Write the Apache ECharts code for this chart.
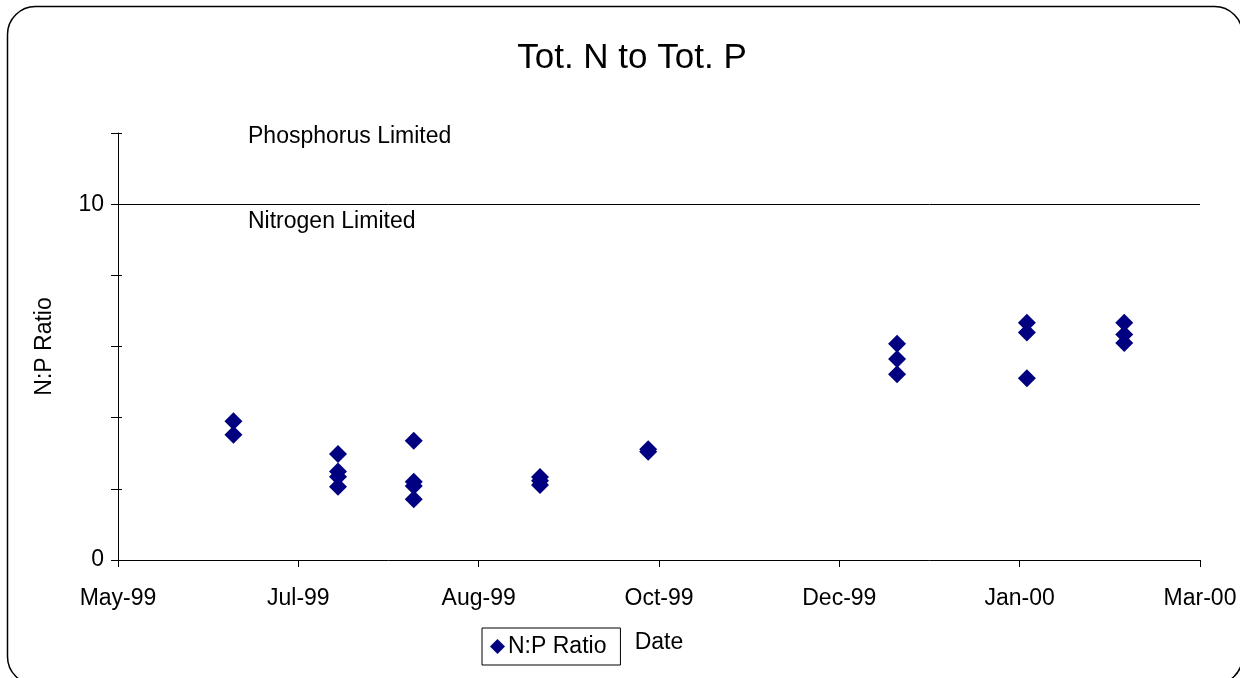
<!DOCTYPE html>
<html>
<head>
<meta charset="utf-8">
<title>Tot. N to Tot. P</title>
<script src="https://cdn.jsdelivr.net/npm/echarts@6/dist/echarts.min.js"></script>
<style>
  html, body { margin: 0; padding: 0; background: #fff; }
  #main { width: 1240px; height: 678px; }
</style>
</head>
<body>
<div id="main"></div>
<script>
// sample dates and N:P ratios
var sampleDates = [
  '1999-06-19', '1999-06-19',
  '1999-07-18', '1999-07-18', '1999-07-18', '1999-07-18',
  '1999-08-08', '1999-08-08', '1999-08-08', '1999-08-08',
  '1999-09-12', '1999-09-12', '1999-09-12',
  '1999-10-12', '1999-10-12',
  '1999-12-20', '1999-12-20', '1999-12-20',
  '2000-01-25', '2000-01-25', '2000-01-25',
  '2000-02-21', '2000-02-21', '2000-02-21'
];
var npRatio = [
  3.90, 3.52,
  2.98, 2.49, 2.34, 2.06,
  3.35, 2.20, 2.08, 1.71,
  2.33, 2.23, 2.11,
  3.11, 3.04,
  6.08, 5.65, 5.22,
  6.67, 6.39, 5.11,
  6.67, 6.34, 6.10
];
var limitLine = 10;
var yLabels = [0, 10];
var axisStart = '1999-05-18';   // x axis origin, ticks every 50 days
var months = ['Jan', 'Feb', 'Mar', 'Apr', 'May', 'Jun', 'Jul', 'Aug', 'Sep', 'Oct', 'Nov', 'Dec'];

window.onload = function () {
  var chart = echarts.init(document.getElementById('main'));
  var font = "'Liberation Sans', Arial, sans-serif";
  var DAY = 86400000;
  var t0 = Date.parse(axisStart + 'T00:00:00Z');

  var points = sampleDates.map(function (d, i) {
    return [(Date.parse(d + 'T00:00:00Z') - t0) / DAY, npRatio[i]];
  });

  function dateLabel(v) {
    var d = new Date(t0 + v * DAY);
    var yy = String(d.getUTCFullYear()).slice(2);
    return months[d.getUTCMonth()] + '-' + yy;
  }

  var yBase = {
    type: 'value', min: 0, max: 12, interval: 2,
    position: 'left',
    splitLine: { show: false }
  };

  var option = {
    animation: false,
    backgroundColor: '#fff',
    textStyle: { fontFamily: font },
    title: {
      text: 'Tot. N to Tot. P',
      left: 627, top: 36, textAlign: 'center',
      textStyle: { fontSize: 35, fontWeight: 'normal', color: '#000', fontFamily: font }
    },
    legend: {
      left: 482, top: 628,
      icon: 'diamond', itemWidth: 15, itemHeight: 15, itemGap: 4,
      padding: [7, 14, 7, 8],
      borderColor: '#000', borderWidth: 1,
      textStyle: { fontSize: 23, color: '#000', fontFamily: font, padding: [0, 0, 0, -2] },
      data: ['N:P Ratio']
    },
    grid: { left: 118, right: 40, top: 133, bottom: 118 },
    xAxis: {
      type: 'value', min: 0, max: 300, interval: 50,
      name: 'Date', nameLocation: 'middle', nameGap: 71,
      nameTextStyle: { fontSize: 23, color: '#000', fontFamily: font },
      axisLine: { lineStyle: { color: '#000', width: 1 } },
      axisTick: { length: 7, lineStyle: { color: '#000' } },
      axisLabel: { fontSize: 23, color: '#000', margin: 27, formatter: dateLabel },
      splitLine: { show: false }
    },
    yAxis: [
      Object.assign({}, yBase, {
        name: 'N:P Ratio', nameLocation: 'middle', nameGap: 62, nameRotate: 90,
        nameTextStyle: { fontSize: 23, color: '#000', fontFamily: font },
        axisLine: { show: true, lineStyle: { color: '#000', width: 1 } },
        axisTick: { show: true, length: 7, lineStyle: { color: '#000' } },
        axisLabel: {
          fontSize: 23, color: '#000', margin: 14,
          formatter: function (v) { return yLabels.indexOf(v) >= 0 ? String(v) : ''; }
        }
      }),
      Object.assign({}, yBase, {
        axisLine: { show: false },
        axisTick: { show: true, inside: true, length: 4, lineStyle: { color: '#000' } },
        axisLabel: { show: false }
      })
    ],
    series: [{
      name: 'N:P Ratio',
      type: 'scatter',
      symbol: 'diamond',
      symbolSize: 18,
      itemStyle: { color: '#000080', opacity: 1 },
      data: points,
      markLine: {
        silent: true,
        symbol: ['none', 'none'],
        label: { show: false },
        lineStyle: { color: '#000', width: 1, type: 'solid' },
        data: [{ yAxis: limitLine }]
      }
    }],
    graphic: [
      {
        type: 'rect', silent: true, z: -1,
        shape: { x: 7.5, y: 6.5, width: 1235, height: 678, r: 28 },
        style: { fill: 'none', stroke: '#000', lineWidth: 1.5 }
      },
      {
        type: 'text', left: 248, top: 125,
        style: { text: 'Phosphorus Limited', fontSize: 23, fill: '#000', fontFamily: font }
      },
      {
        type: 'text', left: 248, top: 210,
        style: { text: 'Nitrogen Limited', fontSize: 23, fill: '#000', fontFamily: font }
      }
    ]
  };

  chart.setOption(option);
};
</script>
</body>
</html>
